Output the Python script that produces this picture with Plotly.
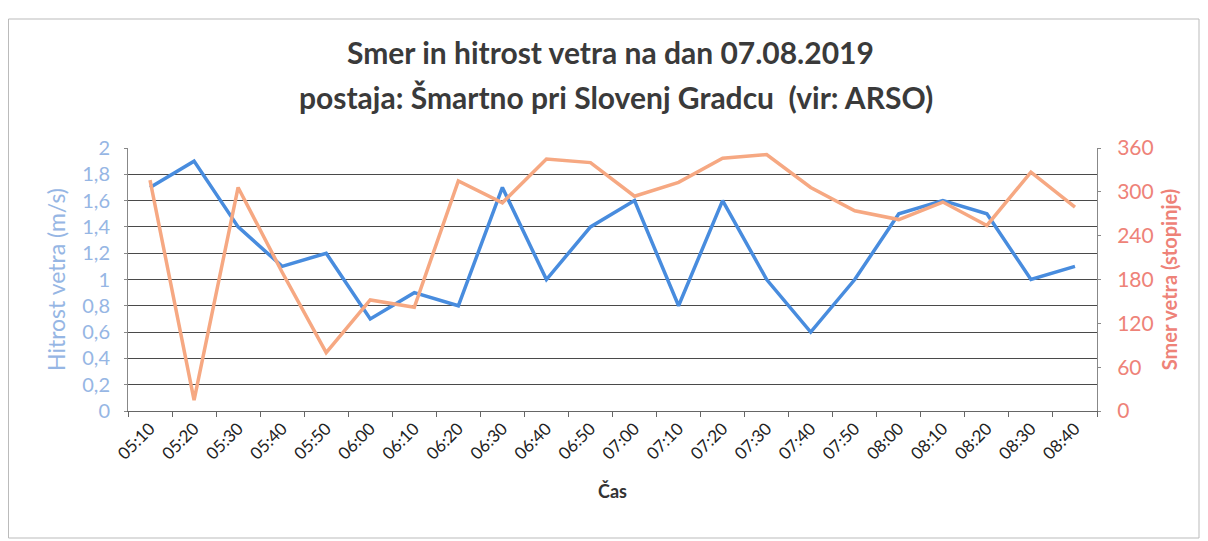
import plotly.graph_objects as go

times = ["05:10", "05:20", "05:30", "05:40", "05:50", "06:00", "06:10", "06:20",
         "06:30", "06:40", "06:50", "07:00", "07:10", "07:20", "07:30", "07:40",
         "07:50", "08:00", "08:10", "08:20", "08:30", "08:40"]
speed = [1.7, 1.9, 1.4, 1.1, 1.2, 0.7, 0.9, 0.8, 1.7, 1.0, 1.4, 1.6,
         0.8, 1.6, 1.0, 0.6, 1.0, 1.5, 1.6, 1.5, 1.0, 1.1]
direction = [316, 15, 306, 190, 80, 152, 142, 315, 285, 345, 340, 294,
             313, 346, 351, 306, 274, 262, 286, 254, 327, 279]

left_tickvals = [0, 0.2, 0.4, 0.6, 0.8, 1.0, 1.2, 1.4, 1.6, 1.8, 2.0]
left_ticktext = ["0", "0,2", "0,4", "0,6", "0,8", "1", "1,2", "1,4", "1,6", "1,8", "2"]
right_tickvals = [0, 60, 120, 180, 240, 300, 360]

title1 = "Smer in hitrost vetra na dan 07.08.2019"
title2 = "postaja: Šmartno pri Slovenj Gradcu&nbsp; (vir: ARSO)"

FONT = "Lato, 'Open Sans', sans-serif"
BLUE = "rgb(72,140,222)"
ORANGE = "rgb(246,168,130)"
BLUE_TXT = "rgb(150,182,228)"
RED_TXT = "rgb(238,130,120)"

# page offset (body margin of 8px) is compensated by the figure size / margins
W, H = 1200, 533
L, R, T, B = 120, 111, 140, 130
PW, PH = W - L - R, H - T - B

def px_x(x):  # screen px -> paper
    return (x - 8 - L) / PW

def px_y(y):
    return (H - B - (y - 8)) / PH

fig = go.Figure()
fig.add_trace(go.Scatter(x=times, y=speed, mode="lines", name="Hitrost",
                         line=dict(color=BLUE, width=3.5), yaxis="y"))
fig.add_trace(go.Scatter(x=times, y=direction, mode="lines", name="Smer",
                         line=dict(color=ORANGE, width=3.5), yaxis="y2"))

fig.update_layout(
    width=W, height=H,
    margin=dict(l=L, r=R, t=T, b=B),
    paper_bgcolor="white", plot_bgcolor="white",
    showlegend=False,
    font=dict(family=FONT),
    xaxis=dict(
        type="category", range=[-0.5, 21.5],
        tickangle=-45, tickfont=dict(size=17, color="#222"),
        showgrid=False, showline=True, linecolor="#666", linewidth=1,
        ticks="outside", ticklen=5, tickcolor="#666", tickson="boundaries",
        title=dict(text="<b>Čas</b>", font=dict(size=18, color="#333"), standoff=22),
    ),
    yaxis=dict(
        range=[0, 2], tickvals=left_tickvals, ticktext=left_ticktext,
        tickfont=dict(size=20, color=BLUE_TXT), ticklabelstandoff=10,
        showgrid=True, gridcolor="#4a4a4a", gridwidth=1,
        showline=True, linecolor="#888", linewidth=1,
        ticks="outside", ticklen=3, tickcolor="#888",
        zeroline=False,
        title=dict(text="Hitrost vetra (m/s)", font=dict(size=23, color=BLUE_TXT), standoff=10),
    ),
    yaxis2=dict(
        range=[0, 360], tickvals=right_tickvals, overlaying="y", side="right",
        tickfont=dict(size=21, color=RED_TXT), ticklabelstandoff=12,
        showgrid=False, showline=True, linecolor="#888", linewidth=1,
        ticks="outside", ticklen=3, tickcolor="#888", zeroline=False,
        title=dict(text="<b>Smer vetra (stopinje)</b>", font=dict(size=20, color=RED_TXT), standoff=10),
    ),
    annotations=[
        dict(text="<b>" + title1 + "</b>", x=px_x(610), y=px_y(52), xref="paper", yref="paper",
             xanchor="center", yanchor="middle",
             showarrow=False, font=dict(size=30, color="#3a3a3a")),
        dict(text="<b>" + title2 + "</b>", x=px_x(616), y=px_y(97), xref="paper", yref="paper",
             xanchor="center", yanchor="middle",
             showarrow=False, font=dict(size=30, color="#3a3a3a")),
    ],
    shapes=[dict(type="rect", xref="paper", yref="paper",
                 x0=px_x(8.5), x1=px_x(1199), y0=px_y(538), y1=px_y(19),
                 line=dict(color="#bbb", width=1))],
)

fig.write_html("out.html")
